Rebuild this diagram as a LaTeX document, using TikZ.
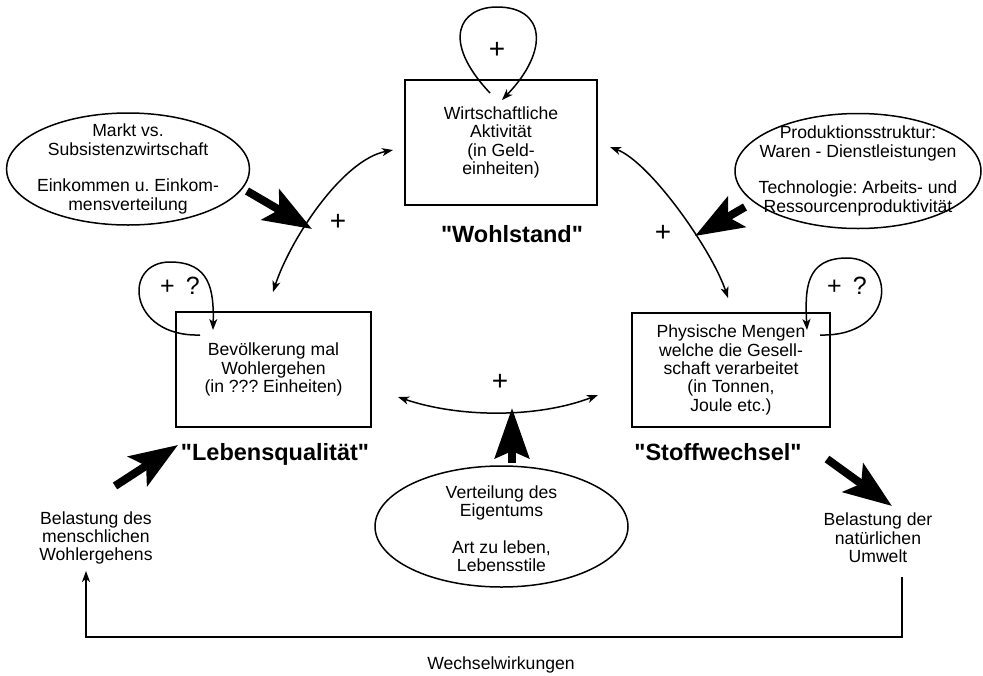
\documentclass[tikz,border=0pt]{standalone}
\usepackage{fontspec}
\setmainfont{Liberation Sans}[Ligatures=TeXOff]
\usetikzlibrary{arrows.meta,shapes.geometric}
\frenchspacing
\begin{document}
\begin{tikzpicture}[x=1pt,y=-1pt,
  txt/.style={font=\fontsize{17.6}{18.3}\selectfont, align=center, inner sep=0pt},
  boxnode/.style={draw, line width=1.6pt, inner sep=0pt, align=center, font=\fontsize{17.6}{18.3}\selectfont},
  ellnode/.style={draw, ellipse, line width=1.5pt, inner sep=0pt},
  boldlbl/.style={font=\fontsize{23.5}{26}\selectfont\bfseries, inner sep=0pt, anchor=base},
  plus/.style={font=\fontsize{28}{30}\selectfont, inner sep=0pt},
  plusq/.style={font=\fontsize{25}{28}\selectfont, inner sep=0pt},
  thinarr/.style={line width=1.5pt, -{Stealth[length=11pt,width=8pt,inset=3pt]}},
  botharr/.style={line width=1.5pt, {Stealth[length=11pt,width=8pt,inset=3pt]}-{Stealth[length=11pt,width=8pt,inset=3pt]}},
  fatarr/.style={line width=8pt, -{Stealth[length=48pt,width=35pt,inset=10pt]}},
  fatup/.style={line width=8pt, -{Stealth[length=50pt,width=34pt,inset=7pt]}},
]
\useasboundingbox (0,0) rectangle (983,675);

% boxes
\node[boxnode, minimum width=192pt, minimum height=125pt] (wa) at (501,142.5) {Wirtschaftliche\\Aktivit\"at\\(in Geld-\\einheiten)};
\node[boxnode, minimum width=195pt, minimum height=115pt] (lq) at (273.5,369.5) {Bev\"olkerung mal\\Wohlergehen\\(in ??? Einheiten)};
\node[boxnode, minimum width=198pt, minimum height=114pt] (sw) at (731,370) {Physische Mengen\\welche die Gesell-\\schaft verarbeitet\\(in Tonnen,\\Joule etc.)};

% bold labels
\node[boldlbl] (wohl) at (512,242) {"Wohlstand"};
\node[boldlbl] (lebq) at (275,460) {"Lebensqualit\"at"};
\node[boldlbl] (stoff) at (718,460) {"Stoffwechsel"};

% ellipses
\node[ellnode, minimum width=243pt, minimum height=112pt] (e1) at (128,169) {};
\node[txt] (e1t) at (e1.center) {Markt vs.\\Subsistenzwirtschaft\\[18.3pt]Einkommen u. Einkom-\\mensverteilung};
\node[ellnode, minimum width=246pt, minimum height=115pt] (e2) at (858,171) {};
\node[txt] (e2t) at (e2.center) {Produktionsstruktur:\\Waren - Dienstleistungen\\[18.3pt]Technologie: Arbeits- und\\Ressourcenproduktivit\"at};
\node[ellnode, minimum width=253pt, minimum height=121pt] (e3) at (501.5,526.5) {};
\node[txt] (e3t) at (501.5,529) {Verteilung des\\Eigentums\\[18.3pt]Art zu leben,\\Lebensstile};

% side texts
\node[txt] (bl) at (96,538) {Belastung des\\menschlichen\\Wohlergehens};
\node[txt] (br) at (878,538) {Belastung der\\nat\"urlichen\\Umwelt};
\node[txt] (ww) at (501,665) {Wechselwirkungen};

% plus signs
\node[plus] (p1) at (497,50) {+};
\node[plus] (p2) at (338,222) {+};
\node[plus] (p3) at (663,233) {+};
\node[plus] (p4) at (500,382) {+};
\node[plusq] (p5) at (180,286) {+\hspace{0.45em}?};
\node[plusq] (p6) at (847,286) {+\hspace{0.45em}?};

% coordinates
\coordinate (lqA) at (273,292);
\coordinate (waA) at (393,150);
\coordinate (waB) at (610,147);
\coordinate (swA) at (728,298);
\coordinate (lqB) at (398,397);
\coordinate (swB) at (598,395);
\coordinate (f1s) at (247,191); \coordinate (f1e) at (312,229);
\coordinate (f2s) at (745,207); \coordinate (f2e) at (695,236);
\coordinate (f3s) at (115,486); \coordinate (f3e) at (178,445);
\coordinate (f4s) at (827,459); \coordinate (f4e) at (892,506);
\coordinate (f5s) at (512,463); \coordinate (f5e) at (512,408);
\coordinate (bS) at (902,577); \coordinate (bC1) at (902,637);
\coordinate (bC2) at (86,637); \coordinate (bE) at (86,571);
\coordinate (l1s) at (490,93); \coordinate (l1e) at (502,100);
\coordinate (l2s) at (200,335); \coordinate (l2e) at (213,330);
\coordinate (l3s) at (820,335); \coordinate (l3e) at (807,330);

% curved double arrows
\draw[botharr] (lqA) .. controls (290,240) and (342,160) .. (waA);
\draw[botharr] (waB) .. controls (650,162) and (712,250) .. (swA);
\draw[botharr] (lqB) .. controls (460,418) and (538,418) .. (swB);

% self loops
\draw[thinarr] (l1s) .. controls (440,40) and (460,7) .. (497,7) .. controls (545,7) and (550,50) .. (l1e);
\draw[thinarr] (l2s) .. controls (128,337) and (122,262) .. (170,262) .. controls (210,262) and (214,290) .. (l2e);
\draw[thinarr] (l3s) .. controls (897,337) and (897,258) .. (847,258) .. controls (805,258) and (805,290) .. (l3e);

% fat arrows
\draw[fatarr] (f1s) -- (f1e);
\draw[fatarr] (f2s) -- (f2e);
\draw[fatarr] (f3s) -- (f3e);
\draw[fatarr] (f4s) -- (f4e);
\draw[fatup] (f5s) -- (f5e);

% bottom feedback
\draw[thinarr] (bS) -- (bC1) -- (bC2) -- (bE);
\end{tikzpicture}
\end{document}
